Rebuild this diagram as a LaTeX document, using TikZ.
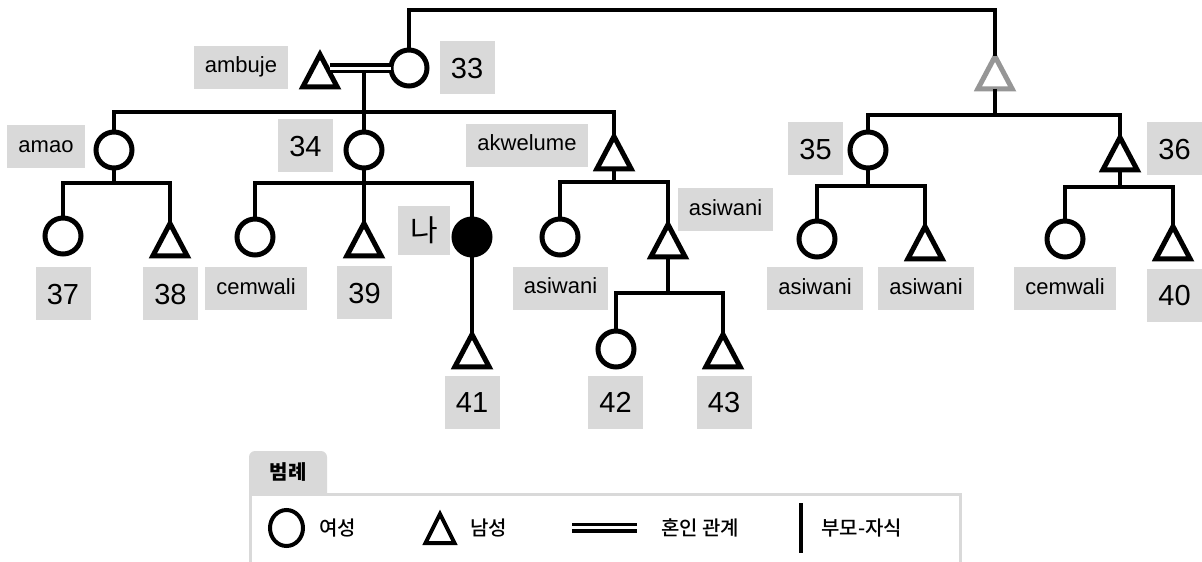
\documentclass[tikz,border=0pt]{standalone}
\usepackage{fontspec}
\setmainfont{Liberation Sans}
\newfontfamily\kr{Noto Sans CJK KR}
\newfontfamily\krm{Noto Sans CJK KR Medium}
\usetikzlibrary{shapes.geometric}
\definecolor{lblgray}{RGB}{217,217,217}
\definecolor{greyc}{RGB}{150,150,150}
\begin{document}
\begin{tikzpicture}[x=1pt,y=-1pt,
  fem/.style={circle, draw, line width=5pt, minimum size=36pt, inner sep=0pt, outer sep=0pt, fill=white},
  male/.style={regular polygon, regular polygon sides=3, draw, line width=5pt, minimum size=39.5pt, inner sep=0pt, outer sep=0pt, fill=white, yscale=1.09},
  ln/.style={line width=4.8pt},
  marriage/.style={double, double distance=3pt, line width=3.7pt},
  lbl/.style={fill=lblgray, inner xsep=11pt, inner ysep=0pt, minimum height=43pt, text height=16pt, text depth=5pt, font=\fontsize{22}{24}\selectfont},
  num/.style={fill=lblgray, inner sep=0pt, minimum width=55pt, minimum height=53pt, text height=21pt, text depth=0pt, font=\fontsize{29}{31}\selectfont},
  leg/.style={anchor=west, inner sep=0pt, font=\krm\fontsize{20}{22}\selectfont}]
\useasboundingbox (0,0) rectangle (1202,562);

% ---- persons ----
\node[male] (amb) at (320,76) {};
\node[fem] (n33) at (409,68) {};
\node[male, draw=greyc] (grey) at (995,78) {};

\node[fem] (amao) at (114,150) {};
\node[fem] (c34) at (364,150) {};
\node[male] (akw) at (614,158) {};
\node[fem] (c35) at (868,150) {};
\node[male] (t36) at (1120,159) {};

\node[fem] (c37) at (63,236) {};
\node[male] (t38) at (170,245) {};
\node[fem] (cem1) at (255,237) {};
\node[male] (t39) at (364,245) {};
\node[fem, fill=black] (me) at (472,237) {};
\node[fem] (asi1) at (560,237) {};
\node[male] (asi2) at (668,246) {};
\node[fem] (asi3) at (817,239) {};
\node[male] (asi4) at (925,248) {};
\node[fem] (cem2) at (1065,239) {};
\node[male] (t40) at (1173,248) {};

\node[male] (t41) at (472,356) {};
\node[fem] (c42) at (616,349) {};
\node[male] (t43) at (723,356) {};

% ---- junction coordinates ----
\coordinate (topL) at (409,10);
\coordinate (topR) at (995,10);
\coordinate (mar) at (364,67);
\coordinate (b1) at (364,112);
\coordinate (b2) at (995,115);
\coordinate (bamao) at (114,183);
\coordinate (b34) at (364,183);
\coordinate (bakw) at (614,182);
\coordinate (basi) at (668,293);
\coordinate (b35) at (868,186);
\coordinate (b36) at (1120,187);

% ---- connectors ----
\draw[ln] (n33.north) -- (topL) -- (topR) -- (grey.corner 1);
\draw[marriage] (n33.west) -- ++(-61,0) coordinate (marL);
\draw[ln] (mar) ++(0,4) -- (c34.north);
\draw[ln] (amao.north) |- (b1) -| (akw.corner 1);

\draw[ln] (grey.side 2) -- (b2);
\draw[ln] (c35.north) |- (b2) -| (t36.corner 1);

\draw[ln] (amao.south) -- (bamao);
\draw[ln] (c37.north) |- (bamao) -| (t38.corner 1);

\draw[ln] (c34.south) -- (t39.corner 1);
\draw[ln] (cem1.north) |- (b34) -| (me.north);
\draw[ln] (me.south) -- (t41.corner 1);

\draw[ln] (akw.side 2) -- (bakw);
\draw[ln] (asi1.north) |- (bakw) -| (asi2.corner 1);
\draw[ln] (asi2.side 2) -- (basi);
\draw[ln] (c42.north) |- (basi) -| (t43.corner 1);

\draw[ln] (c35.south) -- (b35);
\draw[ln] (asi3.north) |- (b35) -| (asi4.corner 1);
\draw[ln] (t36.side 2) -- (b36);
\draw[ln] (cem2.north) |- (b36) -| (t40.corner 1);

% ---- labels ----
\node[lbl] (lamb) at (241,67) {ambuje};
\node[num] (l33) at (467,67.5) {33};
\node[lbl] (lamao) at (46,146.5) {amao};
\node[num] (l34) at (305.5,145.5) {34};
\node[lbl] (lakw) at (527,145) {akwelume};
\node[num] (l35) at (815.5,148.5) {35};
\node[num] (l36) at (1174.5,148.5) {36};
\node[num] (l37) at (63,293.5) {37};
\node[num] (l38) at (170.5,293.5) {38};
\node[lbl] (lcem1) at (256,288.5) {cemwali};
\node[num] (l39) at (364.5,292.5) {39};
\node[fill=lblgray, inner sep=0pt, minimum width=52pt, minimum height=49pt, font=\kr\fontsize{30}{32}\selectfont] (lme) at (424,230.5) {나};
\node[lbl] (lasi1) at (560.5,288) {asiwani};
\node[lbl] (lasi2) at (725.5,209.5) {asiwani};
\node[lbl] (lasi3) at (815,288.5) {asiwani};
\node[lbl] (lasi4) at (926,288.5) {asiwani};
\node[lbl] (lcem2) at (1065,288.5) {cemwali};
\node[num] (l40) at (1174.5,295) {40};
\node[num] (l41) at (472,402) {41};
\node[num] (l42) at (615.5,402) {42};
\node[num] (l43) at (724,402) {43};

% ---- legend ----
\fill[lblgray, rounded corners=6pt] (249,451) rectangle (327,520);
\draw[lblgray, line width=3pt, fill=white] (250,494) rectangle (960,580);
\node[inner sep=0pt, font=\kr\bfseries\fontsize{20}{22}\selectfont] (legt) at (288,472) {범례};
\draw[line width=4pt] (286.5,528) ellipse [x radius=16.5, y radius=18];
\node[leg] (legf) at (319,528) {여성};
\draw[line width=4pt] (440,514) -- (454.5,543) -- (425.5,543) -- cycle;
\node[leg] (legm) at (470,528) {남성};
\draw[line width=3.5pt, double, double distance=3pt] (572,527.5) -- (637,527.5);
\node[leg] (legmar) at (661,528) {혼인 관계};
\draw[line width=4pt] (801,503) -- (801,553);
\node[leg] (legpc) at (821,528) {부모-자식};
\end{tikzpicture}
\end{document}
